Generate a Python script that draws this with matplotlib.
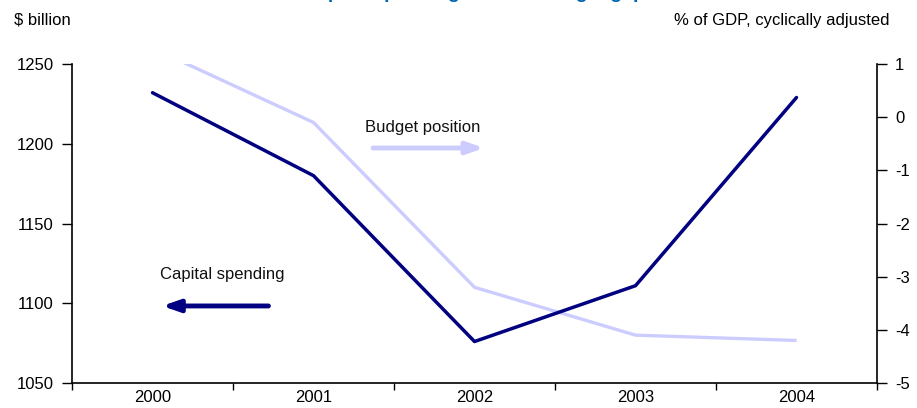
import matplotlib
matplotlib.use("Agg")
import matplotlib.pyplot as plt

plt.rcParams['font.family'] = ['Liberation Sans', 'DejaVu Sans']

years = ["2000", "2001", "2002", "2003", "2004"]
capital_spending = [1232, 1180, 1076, 1111, 1229]
budget_position = [1.3, -0.1, -3.2, -4.1, -4.2]

left_ticks = [1050, 1100, 1150, 1200, 1250]
right_ticks = [-5, -4, -3, -2, -1, 0, 1]

navy = "#000080"
lav = "#CCCCFF"
fs = 12

fig = plt.figure(figsize=(9.17, 4.08), dpi=100)
ax = fig.add_axes([72/917, 1-383/408, (877-72)/917, (383-64)/408])
ax2 = ax.twinx()

x = list(range(len(years)))
ax2.plot(x, budget_position, color=lav, lw=2.4, solid_capstyle='butt', zorder=2)
ax.plot(x, capital_spending, color=navy, lw=2.5, solid_capstyle='round', zorder=3)
ax.set_zorder(ax2.get_zorder() + 1)
ax.patch.set_visible(False)

ax.set_xlim(-0.5, 4.5)
ax.set_ylim(1050, 1250)
ax2.set_ylim(-5, 1)
ax.set_yticks(left_ticks)
ax.set_yticklabels([str(v) for v in left_ticks])
ax2.set_yticks(right_ticks)
ax2.set_yticklabels([str(v) for v in right_ticks])

ax.set_xticks(x)
ax.set_xticklabels(years)
ax.set_xticks([i - 0.5 for i in range(len(years) + 1)], minor=True)
ax.tick_params(axis='x', which='major', length=0, pad=5, labelsize=fs)
ax.tick_params(axis='x', which='minor', length=5, width=1, direction='out')
ax.tick_params(axis='y', length=7, width=1, direction='out', labelsize=fs, pad=6)
ax2.tick_params(axis='y', length=7, width=1, direction='out', labelsize=fs, pad=6)

for a in (ax, ax2):
    a.spines['top'].set_visible(False)
    for s in a.spines.values():
        s.set_linewidth(1.2)
ax.spines['right'].set_visible(False)
ax2.spines['left'].set_visible(False)
ax2.spines['bottom'].set_visible(False)

# annotations
ax2.text(1.32, -0.2, "Budget position", fontsize=fs, va='center', ha='left', color='#111111')
ax2.annotate("", xy=(2.06, -0.58), xytext=(1.37, -0.58),
             arrowprops=dict(arrowstyle="-|>,head_length=1.0,head_width=0.35", color=lav, lw=3.5,
                             shrinkA=0, shrinkB=0))
ax.text(0.047, 1118, "Capital spending", fontsize=fs, va='center', ha='left', color='#111111')
ax.annotate("", xy=(0.06, 1098.3), xytext=(0.72, 1098.3),
            arrowprops=dict(arrowstyle="-|>,head_length=1.0,head_width=0.35", color=navy, lw=3.5,
                            shrinkA=0, shrinkB=0))

fig.text(14/917, 1-20/408, "$ billion", fontsize=fs, va='center', ha='left')
fig.text(890/917, 1-20/408, "% of GDP, cyclically adjusted", fontsize=fs, va='center', ha='right')
fig.text(474/917, 1+2/408, "Capital spending and the budget gap", fontsize=14, fontweight='bold',
         color="#0066B3", va='baseline', ha='center')

fig.savefig("out.png", dpi=100)
